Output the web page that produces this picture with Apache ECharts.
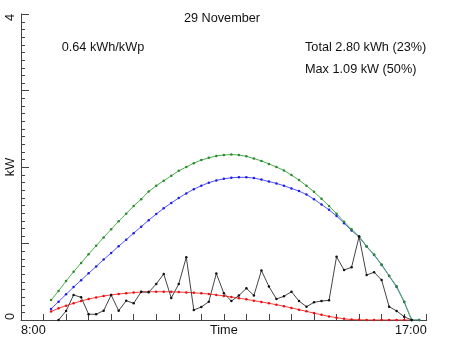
<!DOCTYPE html>
<html>
<head>
<meta charset="utf-8">
<script src="https://cdn.jsdelivr.net/npm/echarts@6/dist/echarts.min.js"></script>
<style>
  html, body { margin: 0; padding: 0; background: #fff; }
  #chart { width: 452px; height: 339px; }
</style>
</head>
<body>
<div id="chart"></div>
<script>
// Sample times (10-minute steps) for the modelled curves
const curveTimes = [
  '8:40','8:50',
  '9:00','9:10','9:20','9:30','9:40','9:50',
  '10:00','10:10','10:20','10:30','10:40','10:50',
  '11:00','11:10','11:20','11:30','11:40','11:50',
  '12:00','12:10','12:20','12:30','12:40','12:50',
  '13:00','13:10','13:20','13:30','13:40','13:50',
  '14:00','14:10','14:20','14:30','14:40','14:50',
  '15:00','15:10','15:20','15:30','15:40','15:50',
  '16:00','16:10','16:20','16:30','16:40','16:50'
];

// Clear-sky maximum (kW)
const clearSkyMax = [
  0.26, 0.38,
  0.51, 0.63, 0.745, 0.86, 0.97, 1.08,
  1.185, 1.29, 1.39, 1.49, 1.58, 1.68,
  1.755, 1.82, 1.885, 1.95, 2.00, 2.05,
  2.09, 2.12, 2.145, 2.157, 2.163, 2.157,
  2.14, 2.11, 2.08, 2.04, 2.00, 1.955,
  1.895, 1.83, 1.755, 1.675, 1.585, 1.49,
  1.39, 1.285, 1.185, 1.095, 0.965, 0.855,
  0.725, 0.58, 0.44, 0.24, 0, 0
];

// Expected clear-sky output (kW)
const clearSkyExpected = [
  0.145, 0.24,
  0.335, 0.43, 0.52, 0.61, 0.70, 0.79,
  0.875, 0.965, 1.05, 1.135, 1.22, 1.305,
  1.385, 1.46, 1.53, 1.595, 1.655, 1.71,
  1.755, 1.795, 1.825, 1.845, 1.86, 1.865,
  1.865, 1.855, 1.835, 1.81, 1.785, 1.755,
  1.72, 1.685, 1.64, 1.58, 1.51, 1.44,
  1.36, 1.265, 1.17, 1.085, 0.96, 0.85,
  0.72, 0.575, 0.43, 0.235, 0, 0
];

// Diffuse-only estimate (kW)
const diffuseEstimate = [
  0.11, 0.153,
  0.187, 0.218, 0.248, 0.273, 0.295, 0.313,
  0.328, 0.34, 0.35, 0.358, 0.365, 0.369,
  0.37, 0.37, 0.368, 0.365, 0.361, 0.356,
  0.349, 0.34, 0.328, 0.315, 0.30, 0.285,
  0.27, 0.253, 0.236, 0.218, 0.20, 0.18,
  0.158, 0.135, 0.113, 0.09, 0.068, 0.047,
  0.03, 0.015, 0.006, 0.002, 0, 0,
  0, 0, 0, 0, 0, null
];

// Measured output, 8:50 .. 16:40 (kW)
const powerTimes = curveTimes.slice(1, 49);
const measuredPower = [
  0, 0.118, 0.327, 0.297, 0.075, 0.075, 0.122,
  0.327, 0.122, 0.252, 0.218, 0.37, 0.362,
  0.471, 0.601, 0.288, 0.471, 0.82, 0.131,
  0.17, 0.239, 0.608, 0.349, 0.248, 0.32,
  0.414, 0.32, 0.647, 0.438, 0.275, 0.31,
  0.37, 0.248, 0.174, 0.231, 0.248, 0.257,
  0.827, 0.654, 0.689, 1.09, 0.588, 0.624,
  0.523, 0.174, 0.118, 0.043, 0
];

const xTickLabels = ['8:00', '17:00'];
const yTickLabels = ['0', '4'];

const titleText = '29 November';
const yieldText = '0.64 kWh/kWp';
const totalText = 'Total 2.80 kWh (23%)';
const maxText = 'Max 1.09 kW (50%)';

function toMinutes(t) {
  const p = t.split(':');
  return Number(p[0]) * 60 + Number(p[1]);
}
function pairs(times, vals) {
  return times.map((t, i) => [toMinutes(t), vals[i]]);
}

const FONT = '"Liberation Sans", Arial, Helvetica, sans-serif';
const FS = 12.7;
const AXIS = '#444';
const TEXT = '#111';
const X0 = toMinutes(xTickLabels[0]);
const X1 = toMinutes(xTickLabels[1]);
const Y_MAX = 4;

// 0.1 kW subdivision positions on the kW axis (whole kW get the long axis ticks)
const minorTickValues = [];
for (let i = 1; i < Y_MAX * 10; i++) {
  if (i % 10 !== 0) minorTickValues.push(i / 10);
}

function lineSeries(name, data, lineColor, dotColor, z) {
  return {
    name, type: 'line', data, z,
    showSymbol: true, symbol: 'circle', symbolSize: 2.5,
    lineStyle: { color: lineColor, width: 1 },
    itemStyle: { color: dotColor },
    connectNulls: false,
    emphasis: { disabled: true }
  };
}

const chart = echarts.init(document.getElementById('chart'), null, { renderer: 'canvas' });
chart.setOption({
  animation: false,
  backgroundColor: '#fff',
  grid: { left: 21, right: 25.3, top: 14, bottom: 19, containLabel: false, outerBoundsMode: 'none' },
  xAxis: {
    type: 'value', min: X0, max: X1, interval: 30,
    name: 'Time', nameLocation: 'middle', nameGap: 4, nameMoveOverlap: false,
    nameTextStyle: { color: TEXT, fontFamily: FONT, fontSize: FS, verticalAlign: 'top' },
    axisLine: { show: true, onZero: false, lineStyle: { color: AXIS, width: 1 } },
    axisTick: { show: true, inside: true, length: 6, lineStyle: { color: AXIS } },
    splitLine: { show: false },
    axisLabel: {
      color: TEXT, fontFamily: FONT, fontSize: FS, margin: 4,
      alignMinLabel: 'left', alignMaxLabel: 'right',
      formatter: v => v === X0 ? xTickLabels[0] : v === X1 ? xTickLabels[1] : ''
    }
  },
  yAxis: {
    type: 'value', min: 0, max: Y_MAX, interval: 1, position: 'left',
    name: 'kW', nameLocation: 'middle', nameGap: 4, nameRotate: 90, nameMoveOverlap: false,
    nameTextStyle: { color: TEXT, fontFamily: FONT, fontSize: FS, verticalAlign: 'bottom' },
    axisLine: { show: true, onZero: false, lineStyle: { color: AXIS, width: 1 } },
    axisTick: { show: true, inside: true, length: 8, lineStyle: { color: AXIS } },
    splitLine: { show: false },
    axisLabel: {
      color: TEXT, fontFamily: FONT, fontSize: FS, margin: 4, rotate: 90,
      alignMinLabel: 'left', alignMaxLabel: 'right',
      formatter: v => v === 0 ? yTickLabels[0] : v === Y_MAX ? yTickLabels[1] : ''
    }
  },
  series: [
    {
      // short 0.1 kW ticks along the left edge, placed through the axis scale
      name: 'minorTicks', type: 'custom', silent: true, clip: false, z: 10,
      data: minorTickValues.map(v => [X0, v]),
      encode: { x: 0, y: 1 },
      renderItem: (params, api) => {
        const p = api.coord([api.value(0), api.value(1)]);
        return {
          type: 'rect',
          shape: { x: Math.round(p[0]), y: Math.round(p[1]), width: 4, height: 1 },
          style: { fill: AXIS }
        };
      }
    },
    lineSeries('diffuse', pairs(curveTimes, diffuseEstimate), '#ff3a3a', '#e81010', 2),
    lineSeries('expected', pairs(curveTimes, clearSkyExpected), '#5555ff', '#1e1ee6', 3),
    lineSeries('max', pairs(curveTimes, clearSkyMax), '#4caf4c', '#2a8a2a', 4),
    lineSeries('measured', pairs(powerTimes, measuredPower), '#444', '#111', 5)
  ],
  graphic: [
    { type: 'text', x: 222, y: 18.7, style: { text: titleText, fill: TEXT, font: FS + 'px ' + FONT, textAlign: 'center', textVerticalAlign: 'middle' } },
    { type: 'text', x: 61.7, y: 47.5, style: { text: yieldText, fill: TEXT, font: FS + 'px ' + FONT, textAlign: 'left', textVerticalAlign: 'middle' } },
    { type: 'text', x: 305, y: 47.5, style: { text: totalText, fill: TEXT, font: FS + 'px ' + FONT, textAlign: 'left', textVerticalAlign: 'middle' } },
    { type: 'text', x: 305, y: 69.5, style: { text: maxText, fill: TEXT, font: FS + 'px ' + FONT, textAlign: 'left', textVerticalAlign: 'middle' } }
  ]
});
</script>
</body>
</html>
